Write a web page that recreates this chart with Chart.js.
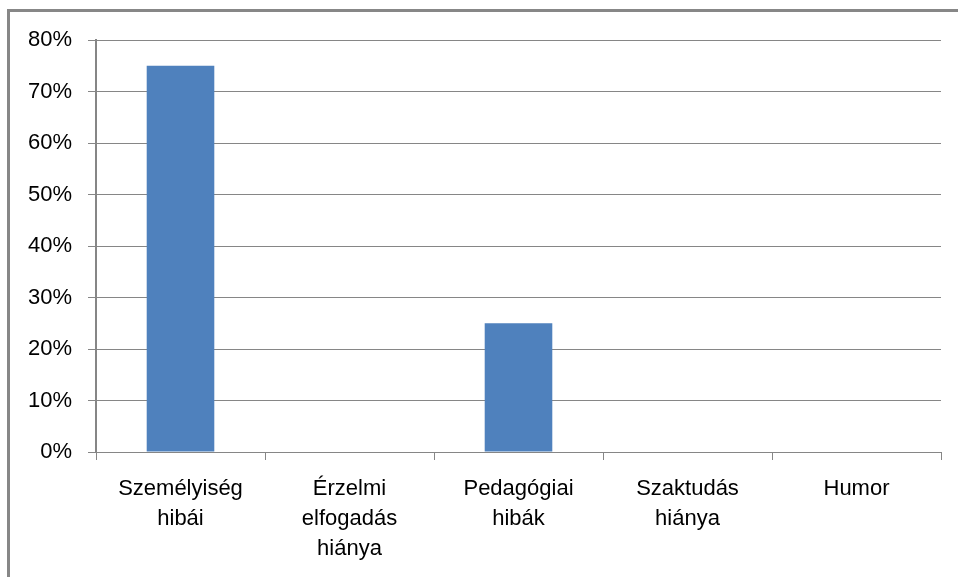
<!DOCTYPE html>
<html lang="hu">
<head>
  <meta charset="UTF-8" />
  <title>Hibák</title>
  <script src="https://cdn.jsdelivr.net/npm/chart.js"></script>
  <style>
    html, body {
      margin: 0;
      padding: 0;
      background: #fff;
      overflow: hidden;
    }
    #wrap {
      position: relative;
      width: 958px;
      height: 577px;
    }
    #frame {
      position: absolute;
      left: 7px;
      top: 9px;
      right: 0;
      bottom: 0;
      border-left: 3px solid #878787;
      border-top: 3px solid #878787;
    }
    canvas {
      position: absolute;
      left: 0;
      top: 0;
    }
  </style>
</head>
<body>
  <div id="wrap">
    <div id="frame"></div>
    <canvas id="chart" width="958" height="577"></canvas>
  </div>

  <script>
    const categories = [
      ["Személyiség", "hibái"],
      ["Érzelmi", "elfogadás", "hiánya"],
      ["Pedagógiai", "hibák"],
      ["Szaktudás", "hiánya"],
      ["Humor"]
    ];
    const values = [75, 0, 25, 0, 0];
    const yTicks = [0, 10, 20, 30, 40, 50, 60, 70, 80];

    const family = "'Liberation Sans', Arial, sans-serif";

    new Chart(document.getElementById("chart"), {
      type: "bar",
      data: {
        labels: categories,
        datasets: [{
          data: values,
          backgroundColor: "#4f81bd",
          borderWidth: 0,
          categoryPercentage: 0.8,
          barPercentage: 0.5
        }]
      },
      options: {
        responsive: false,
        animation: false,
        layout: { padding: { left: 10, right: 17, top: 40, bottom: 0 } },
        plugins: {
          legend: { display: false },
          tooltip: { enabled: false }
        },
        scales: {
          x: {
            offset: true,
            grid: {
              offset: true,
              drawOnChartArea: false,
              drawTicks: true,
              tickLength: 8,
              color: "#868686",
              lineWidth: 1
            },
            border: { display: false },
            ticks: {
              color: "#000",
              font: { family, size: 22, lineHeight: 1.36 },
              padding: 14,
              maxRotation: 0,
              autoSkip: false
            },
            afterFit: s => { s.height = 577 - 452; }
          },
          y: {
            min: 0,
            max: 80,
            afterBuildTicks: s => { s.ticks = yTicks.map(v => ({ value: v })); },
            grid: {
              color: "#868686",
              lineWidth: 1,
              tickLength: 8
            },
            border: { color: "#868686", width: 2 },
            ticks: {
              color: "#000",
              font: { family, size: 22 },
              padding: 16,
              callback: v => v + "%"
            },
            afterFit: s => { s.width = 96 - 10; }
          }
        }
      }
    });
  </script>
</body>
</html>
